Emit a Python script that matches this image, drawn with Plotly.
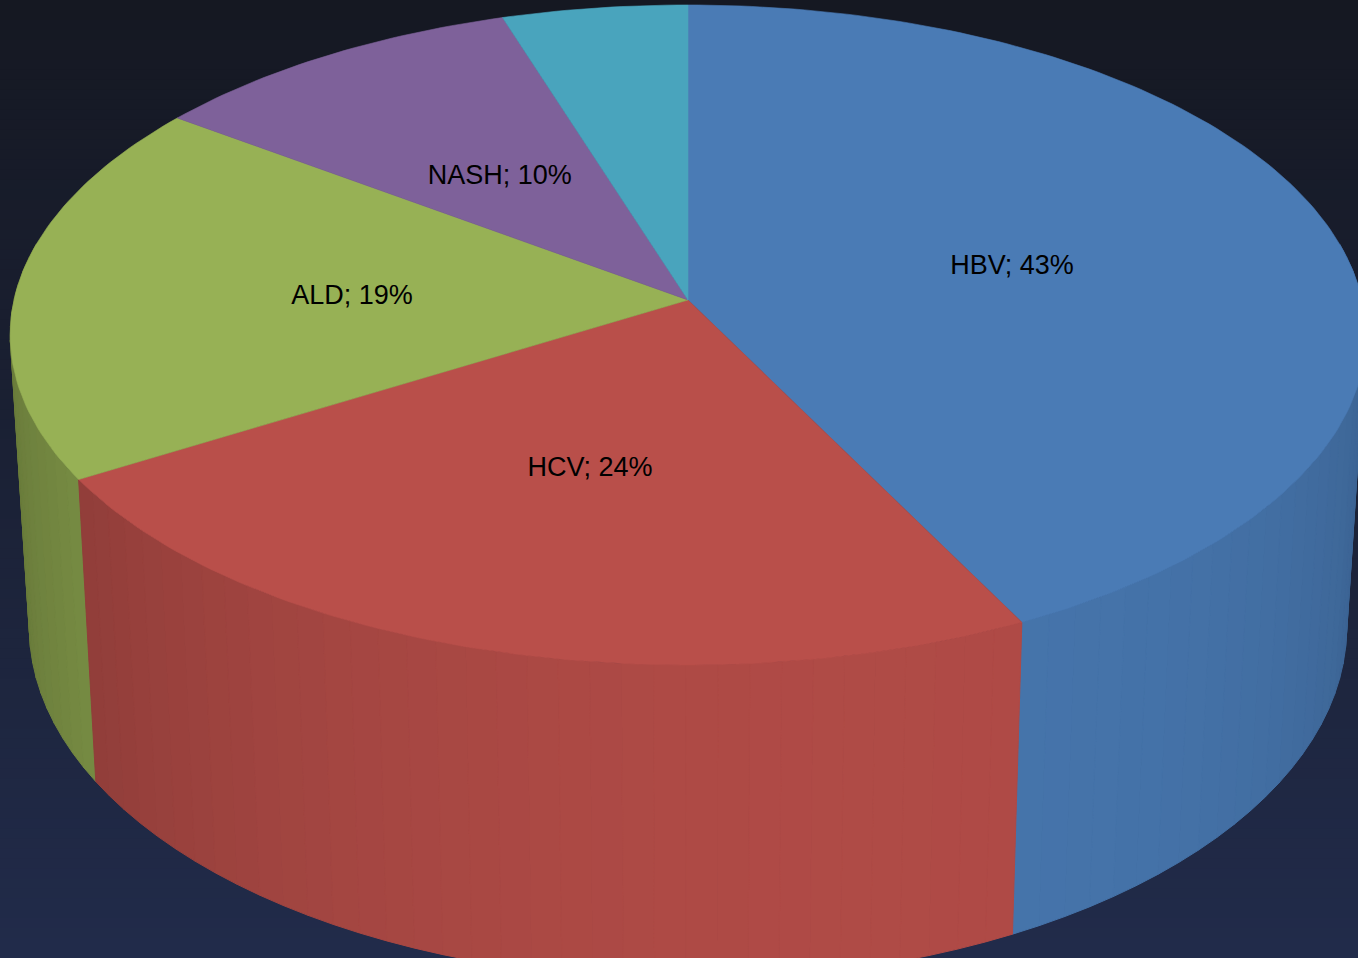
import math
import plotly.graph_objects as go

# ---- data ----
categories = ["HBV", "HCV", "ALD", "NASH", "Other"]
values = [42.6, 23.7, 18.8, 10.0, 4.9]
show_label = [True, True, True, True, False]
top_colors = ["#4a7bb5", "#b94f4a", "#97b155", "#7e619a", "#49a4bd"]

# ---- view / projection parameters (style) ----
W, H = 1358, 958
CX, CY = 688.0, 300.0
A_TOP, B_TOP = 674.0, 326.3
A_BOT, B_BOT, CY_BOT = 655.0, 349.0, 589.6
K = 0.106
LABEL_DY = 4


def top_pt(theta, r=1.0):
    X, Y = r * math.sin(theta), r * math.cos(theta)
    w = 1 + K * Y
    return CX + A_TOP * X / w, CY - B_TOP * Y / w


def bot_pt(theta):
    X, Y = math.sin(theta), math.cos(theta)
    w = 1 + K * Y
    return CX + A_BOT * X / w, CY_BOT - B_BOT * Y / w


def hex2rgb(h):
    h = h.lstrip("#")
    return tuple(int(h[i:i + 2], 16) for i in (0, 2, 4))


def shade(col, f):
    r, g, b = hex2rgb(col)
    return "rgb(%d,%d,%d)" % (min(255, r * f), min(255, g * f), min(255, b * f))


def wall_factor(theta_deg):
    return 0.72 + 0.23 * math.cos(math.radians(theta_deg - 165))


total = sum(values)
bounds = [0.0]
for v in values:
    bounds.append(bounds[-1] + v / total * 360.0)

fig = go.Figure()

# ---- side walls (front half only), drawn far to near ----
strips = []
STEP = 2.5
for i, col in enumerate(top_colors):
    a0, a1 = max(bounds[i], 80.0), min(bounds[i + 1], 280.0)
    if a1 <= a0:
        continue
    n = max(1, int(math.ceil((a1 - a0) / STEP)))
    for j in range(n):
        s0 = a0 + (a1 - a0) * j / n
        s1 = a0 + (a1 - a0) * (j + 1) / n
        mid = 0.5 * (s0 + s1)
        pts_t = [top_pt(math.radians(s0 + (s1 - s0) * t / 4)) for t in range(5)]
        pts_b = [bot_pt(math.radians(s0 + (s1 - s0) * t / 4)) for t in range(5)][::-1]
        pts = pts_t + pts_b + [pts_t[0]]
        strips.append((math.cos(math.radians(mid)), pts, shade(col, wall_factor(mid))))

strips.sort(key=lambda s: -s[0])
for _, pts, c in strips:
    fig.add_trace(go.Scatter(
        x=[p[0] for p in pts], y=[p[1] for p in pts],
        mode="lines", fill="toself", fillcolor=c,
        line=dict(color=c, width=1), hoverinfo="skip", showlegend=False))

# ---- top face ----
for i, col in enumerate(top_colors):
    a0, a1 = bounds[i], bounds[i + 1]
    n = max(4, int((a1 - a0) / 1.0))
    pts = [(CX, CY)] + [top_pt(math.radians(a0 + (a1 - a0) * t / n)) for t in range(n + 1)] + [(CX, CY)]
    fig.add_trace(go.Scatter(
        x=[p[0] for p in pts], y=[p[1] for p in pts],
        mode="lines", fill="toself", fillcolor=col,
        line=dict(color=col, width=0.6), name=categories[i],
        hoverinfo="name", showlegend=False))

# ---- labels ----
lx, ly, lt = [], [], []
for i, name in enumerate(categories):
    if not show_label[i]:
        continue
    mid = math.radians(0.5 * (bounds[i] + bounds[i + 1]))
    x, y = top_pt(mid, 0.5)
    lx.append(x)
    ly.append(y + LABEL_DY)
    lt.append("%s; %d%%" % (name, round(values[i] / total * 100)))
fig.add_trace(go.Scatter(
    x=lx, y=ly, text=lt, mode="text",
    textfont=dict(family="Liberation Sans, Arial, sans-serif", size=27, color="#000000"),
    hoverinfo="skip", showlegend=False))

# ---- background gradient ----
top_bg = (21, 24, 34)
bot_bg = (33, 43, 74)
shapes = []
NB = 96
for b in range(NB):
    t = b / (NB - 1)
    c = tuple(int(round(top_bg[k] + (bot_bg[k] - top_bg[k]) * t)) for k in range(3))
    shapes.append(dict(type="rect", xref="paper", yref="paper",
                       x0=0, x1=1, y0=1 - (b + 1) / NB - 0.002, y1=1 - b / NB,
                       fillcolor="rgb(%d,%d,%d)" % c, line=dict(width=0), layer="below"))

fig.update_layout(
    width=W, height=H,
    margin=dict(l=0, r=0, t=0, b=0),
    paper_bgcolor="#1b2133", plot_bgcolor="rgba(0,0,0,0)",
    shapes=shapes,
    xaxis=dict(range=[0, W], visible=False, fixedrange=True),
    yaxis=dict(range=[H, 0], visible=False, fixedrange=True),
    showlegend=False,
)

fig.write_html("out.html", config={"displayModeBar": False},
               post_script="document.body.style.margin='0';document.body.style.background='#1b2133';")
